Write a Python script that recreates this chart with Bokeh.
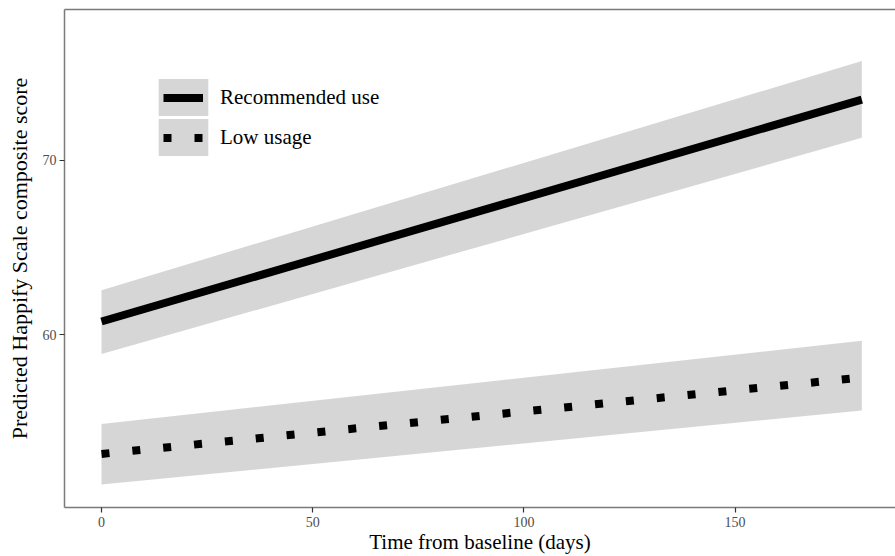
from bokeh.plotting import figure
from bokeh.models import (ColumnDataSource, Range1d, FixedTicker, LinearAxis,
                          Legend, LegendItem)
from bokeh.embed import file_html
from bokeh.resources import INLINE

# ---- data ----
time_days = [0, 180]
rec_fit = [60.75, 73.50]
rec_lower = [58.88, 71.30]
rec_upper = [62.55, 75.71]
low_fit = [53.14, 57.53]
low_lower = [51.38, 55.64]
low_upper = [54.86, 59.64]
x_ticks = [0, 50, 100, 150]
y_ticks = [60, 70]
series_labels = ["Recommended use", "Low usage"]

SERIF = "Liberation Serif"
BORDER = "#7a7a7a"

rec = ColumnDataSource(dict(x=time_days, fit=rec_fit, lo=rec_lower, hi=rec_upper))
low = ColumnDataSource(dict(x=time_days, fit=low_fit, lo=low_lower, hi=low_upper))

p = figure(width=895, height=556, output_backend="svg", toolbar_location=None,
           x_range=Range1d(-8.76, 187.97), y_range=Range1d(50.063, 78.675),
           min_border_left=64, min_border_right=0, min_border_top=9,
           min_border_bottom=48, outline_line_color=None,
           background_fill_color="white", border_fill_color="white")

p.xgrid.visible = False
p.ygrid.visible = False

rib1 = p.varea(x="x", y1="lo", y2="hi", source=rec, fill_color="#999999", fill_alpha=0.4)
rib2 = p.varea(x="x", y1="lo", y2="hi", source=low, fill_color="#999999", fill_alpha=0.4)
l1 = p.line(x="x", y="fit", source=rec, line_color="black", line_width=8)
l2 = p.line(x="x", y="fit", source=low, line_color="black", line_width=8,
            line_dash="8 23")

# axes
for ax in (p.xaxis[0], p.yaxis[0]):
    ax.axis_line_color = BORDER
    ax.axis_line_width = 1.5
    ax.major_tick_line_color = "#333333"
    ax.major_tick_line_width = 1.2
    ax.major_tick_out = 5
    ax.major_tick_in = 0
    ax.minor_tick_line_color = None
    ax.major_label_text_font = SERIF
    ax.major_label_text_font_size = "14px"
    ax.major_label_text_color = "#4d4d4d"
    ax.axis_label_text_font = SERIF
    ax.axis_label_text_font_style = "normal"
    ax.axis_label_text_color = "black"

p.xaxis[0].ticker = FixedTicker(ticks=x_ticks)
p.yaxis[0].ticker = FixedTicker(ticks=y_ticks)
p.xaxis[0].axis_label = "Time from baseline (days)"
p.yaxis[0].axis_label = "Predicted Happify Scale composite score"
p.xaxis[0].axis_label_text_font_size = "21px"
p.yaxis[0].axis_label_text_font_size = "22px"
p.xaxis[0].major_label_standoff = 4
p.yaxis[0].major_label_standoff = 3
p.xaxis[0].axis_label_standoff = 0
p.yaxis[0].axis_label_standoff = 8

top = LinearAxis(ticker=FixedTicker(ticks=[]), axis_line_color=BORDER,
                 axis_line_width=1.5, major_tick_out=0, major_tick_in=0,
                 minor_tick_line_color=None, major_label_text_font_size="0px",
                 major_label_standoff=0)
p.add_layout(top, "above")

# legend key backgrounds (ribbon fill): one label-less legend per key
for rib, loc in ((rib1, (87.8, 386.6)), (rib2, (87.8, 346.6))):
    kb = Legend(items=[LegendItem(label="", renderers=[rib])],
                location=loc, glyph_width=62, glyph_height=46,
                label_standoff=0, label_text_font_size="0px",
                label_height=0, label_width=0,
                padding=0, margin=0, background_fill_alpha=0,
                border_line_color=None)
    p.add_layout(kb, "center")

# legend lines and labels
legend = Legend(items=[
    LegendItem(label=series_labels[0], renderers=[l1]),
    LegendItem(label=series_labels[1], renderers=[l2]),
], location=(99, 351), glyph_width=40, glyph_height=37, spacing=3,
    label_standoff=17, label_text_font=SERIF, label_text_font_size="21px",
    label_text_color="black", padding=0, margin=0,
    background_fill_alpha=0, border_line_color=None)
p.add_layout(legend, "center")

open("out.html", "w").write(file_html(p, INLINE))
